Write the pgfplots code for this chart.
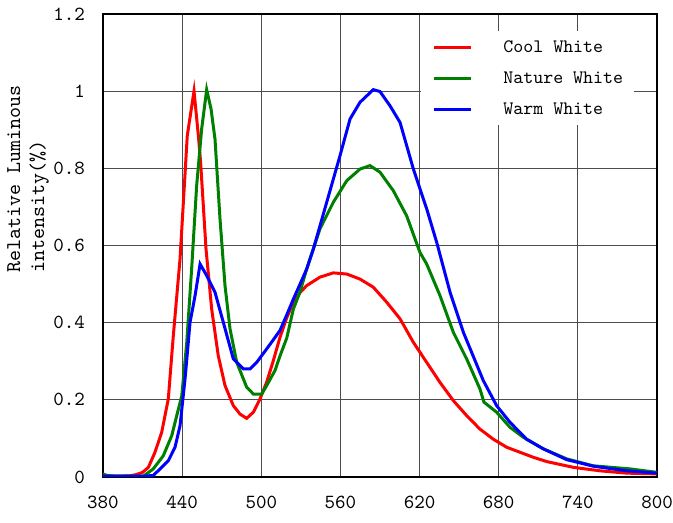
\documentclass[border=0pt]{standalone}
\usepackage{pgfplots}
\pgfplotsset{compat=1.18}

\begin{document}
\begin{tikzpicture}
\begin{axis}[
  scale only axis,
  width=277pt, height=231.5pt,
  xmin=380, xmax=800, ymin=0, ymax=1.2,
  xtick={380,440,500,560,620,680,740,800},
  ytick={0,0.2,0.4,0.6,0.8,1,1.2},
  major tick length=0pt,
  grid=major,
  grid style={black!70, line width=0.6pt},
  axis line style={black, line width=0.8pt},
  /pgf/number format/assume math mode=true,
  ticklabel style={font=\fontsize{10}{11}\selectfont\ttfamily},
  xticklabel style={yshift=-6pt},
  yticklabel style={xshift=-5.5pt},
  ylabel={Relative Luminous\\intensity(\%)},
  ylabel style={at={(axis description cs:-0.135,0.644)}, anchor=center, rotate=0,
    align=left, font=\fontsize{10.5}{12}\selectfont\ttfamily},
  legend cell align=left,
  legend image code/.code={\draw[#1, line width=1.5pt] (0pt,0pt) -- (18.5pt,0pt);},
  legend style={at={(0.574,0.964)}, anchor=north west, draw=none, fill=white,
    font=\fontsize{9.5}{11}\selectfont\ttfamily,
    inner xsep=5.5pt, inner ysep=3.5pt, row sep=6.5pt, column sep=15.5pt,
    nodes={inner sep=0pt, text height=7pt, text depth=2pt}},
]
\addplot[red, line width=1.5pt] coordinates {
  (380,0.002) (390,0.002) (400,0.003) (405,0.006) (410,0.012) (414.4,0.025)
  (419.4,0.064) (424.5,0.116) (429.5,0.202) (433.3,0.366) (438.4,0.565)
  (443.9,0.885) (449,1.0) (452.3,0.885) (454,0.816) (458.1,0.591) (462.4,0.435)
  (467.4,0.314) (472.5,0.237) (478.8,0.185) (483.9,0.163) (488.9,0.152)
  (494,0.168) (499,0.202) (504,0.245) (509,0.30) (514,0.36) (519,0.41)
  (524.3,0.453) (529.4,0.478) (534.4,0.496) (544.5,0.518) (554.6,0.529)
  (564.8,0.526) (574.8,0.513) (584.9,0.492) (595.1,0.453) (605.2,0.41)
  (615.3,0.349) (625.4,0.297) (635.5,0.245) (645.6,0.198) (655.7,0.159)
  (665.8,0.124) (675.9,0.098) (686.1,0.077) (696.2,0.064) (706.3,0.051)
  (716.4,0.040) (736.6,0.025) (756.8,0.016) (777,0.010) (800,0.008)
};
\addlegendentry{Cool White}
\addplot[green!50!black, line width=1.5pt] coordinates {
  (380,0.008) (383,0.004) (390,0.002) (400,0.002) (410.6,0.002) (418.1,0.021)
  (425.7,0.055) (432.1,0.107) (435.9,0.159) (439.7,0.21) (443.5,0.349)
  (447.2,0.539) (451,0.755) (454.8,0.902) (458.6,1.004) (461.9,0.954)
  (464.9,0.876) (468.7,0.669) (472.5,0.496) (476.3,0.384) (481.4,0.297)
  (488.9,0.233) (494,0.215) (500.3,0.215) (504.1,0.237) (510.4,0.276)
  (514.2,0.314) (519.3,0.36) (524.3,0.435) (529.4,0.48) (534.4,0.539)
  (544.5,0.643) (554.6,0.712) (564.8,0.768) (574.8,0.798) (582.4,0.807)
  (590,0.790) (600.1,0.742) (610.2,0.677) (620.3,0.582) (625.4,0.552)
  (635.5,0.470) (645.6,0.375) (655.7,0.306) (665.8,0.228) (668.8,0.194)
  (678.4,0.168) (688.5,0.129) (698.6,0.103) (713.8,0.073) (731.5,0.047)
  (751.7,0.029) (779.5,0.021) (800,0.012)
};
\addlegendentry{Nature White}
\addplot[blue, line width=1.5pt] coordinates {
  (380,0.002) (400,0.002) (410,0.002) (418.1,0.004) (424.5,0.025) (429.5,0.042)
  (434.6,0.077) (438.4,0.133) (442.2,0.254) (446,0.401) (449.8,0.47)
  (453.6,0.552) (458.6,0.522) (464.9,0.479) (471.2,0.401) (478.8,0.306)
  (486.4,0.28) (491.5,0.28) (496.5,0.297) (504.1,0.332) (509,0.355)
  (514.2,0.38) (519.3,0.42) (524.3,0.461) (529.4,0.50) (534.4,0.539)
  (539.5,0.591) (549.6,0.712) (559.7,0.833) (567.3,0.928) (574.8,0.971)
  (584.9,1.004) (590,0.999) (597.6,0.962) (605.2,0.919) (615.3,0.798)
  (625.4,0.695) (633,0.608) (643.1,0.479) (653.2,0.375) (668.3,0.25)
  (678.4,0.185) (688.5,0.142) (701.1,0.098) (713.8,0.073) (731.5,0.045)
  (751.7,0.028) (777,0.016) (800,0.010)
};
\addlegendentry{Warm White}
\end{axis}
\pgfresetboundingbox
\path (-51.5pt,-23pt) rectangle (285pt,238.5pt);
\end{tikzpicture}
\end{document}
